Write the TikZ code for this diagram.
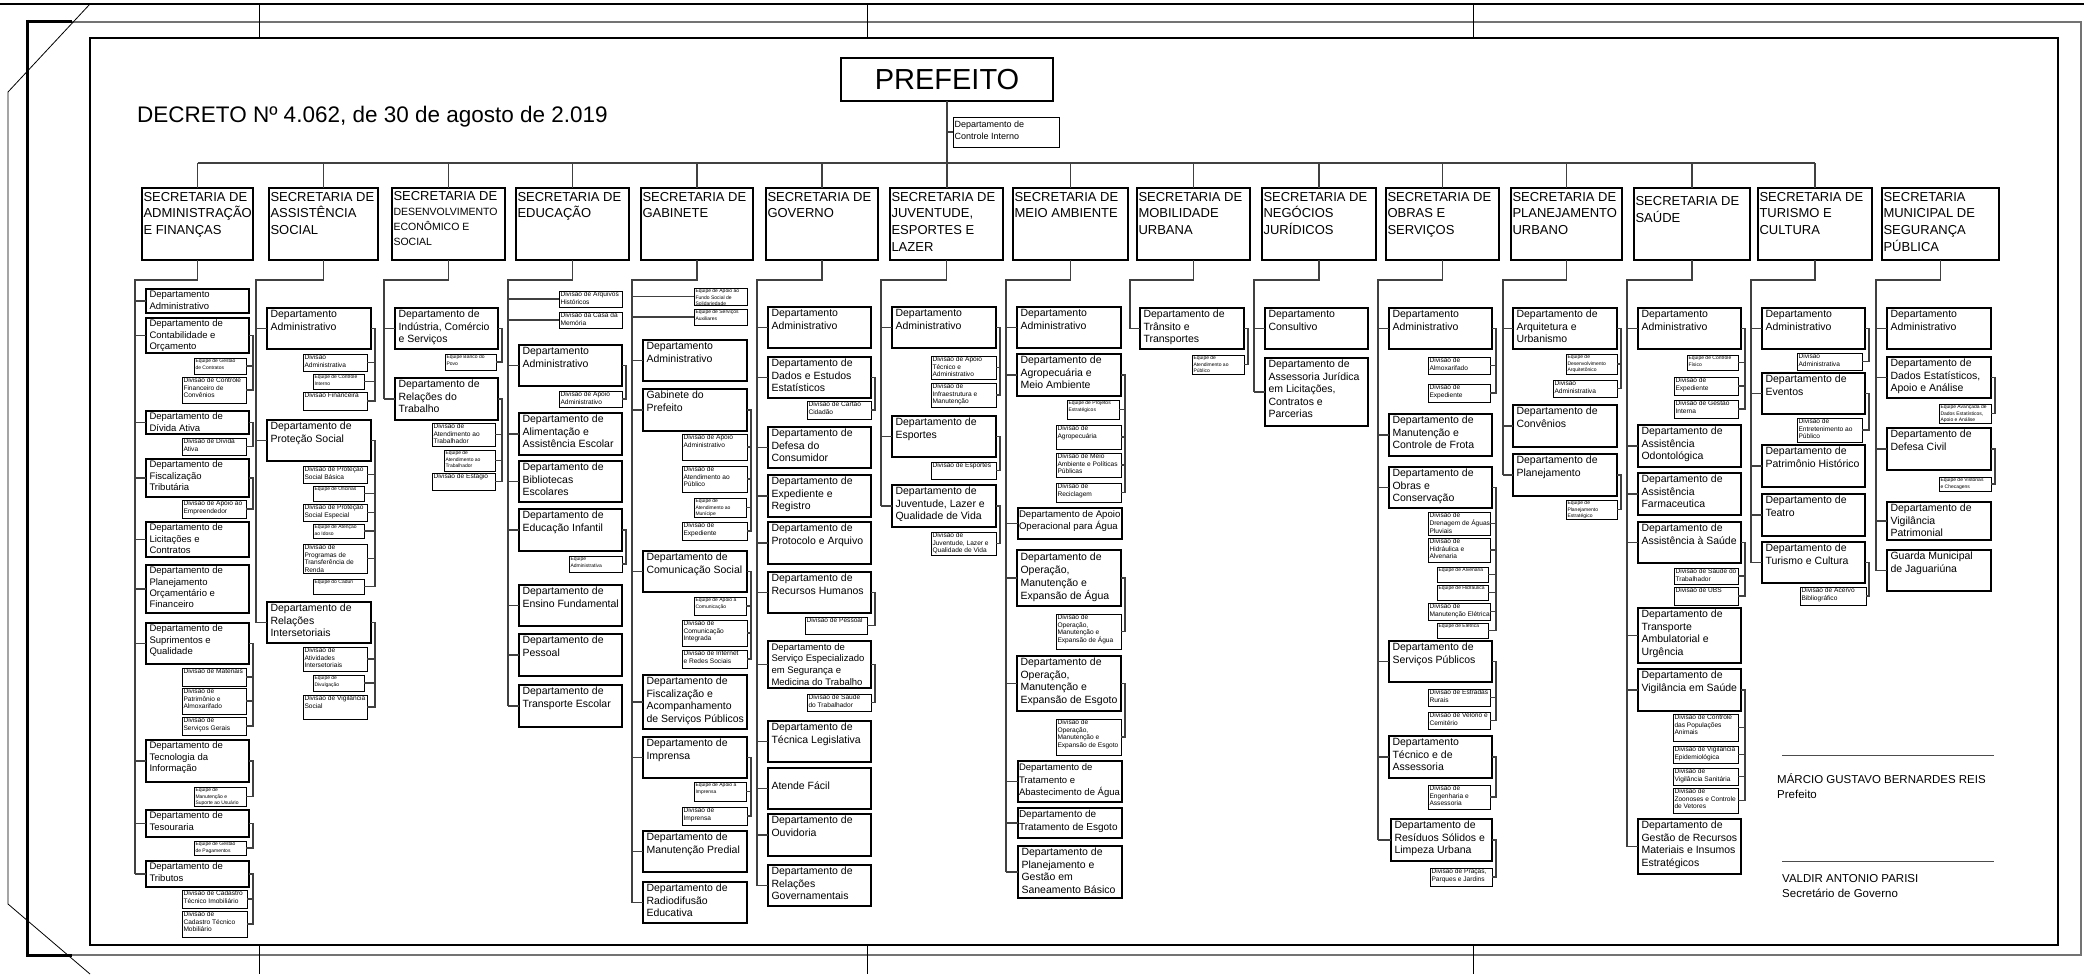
\documentclass[tikz,border=0pt]{standalone}
\usepackage{fontspec}
\setmainfont{Liberation Sans}
\usetikzlibrary{calc}
\newcommand\fs[2]{\fontsize{#1}{#2}\selectfont}
\tikzset{
  bx/.style={draw=black,line width=1.1pt,inner sep=0pt,outer sep=0pt},
  sbx/.style={line width=0.85pt},
  cn/.style={draw=black!75,line width=1.1pt},
  fr/.style={draw=black,line width=1.2pt}
}
\newcommand\bxcore[9]{%
  \pgfmathsetmacro\bw{#4-#2}\pgfmathsetmacro\bh{#5-#3}%
  \node[bx,anchor=north west] (#1) at (#2,#3) {\parbox[c][\bh pt][t]{\bw pt}{#6\vspace*{#8}\hspace*{#7}\begin{tabular}[t]{@{}l@{}}#9\end{tabular}}};}
\newcommand\sbxcore[9]{%
  \pgfmathsetmacro\bw{#4-#2}\pgfmathsetmacro\bh{#5-#3}%
  \node[bx,sbx,anchor=north west] (#1) at (#2,#3) {\parbox[c][\bh pt][t]{\bw pt}{#6\vspace*{#8}\hspace*{#7}\begin{tabular}[t]{@{}l@{}}#9\end{tabular}}};}
\newcommand\dep[7][\fs{10.5}{12.5}]{\bxcore{#2}{#3}{#4}{#5}{#6}{#1}{3.5pt}{1pt}{#7}}
\newcommand\dvb[7][\fs{6.6}{7.5}]{\sbxcore{#2}{#3}{#4}{#5}{#6}{#1}{1.5pt}{0.5pt}{#7}}
\newcommand\eqb[7][\fs{5}{6.4}]{\sbxcore{#2}{#3}{#4}{#5}{#6}{#1}{1.5pt}{0.5pt}{#7}}
\newcommand\hdb[7][\fs{13}{16.7}]{\bxcore{#2}{#3}{#4}{#5}{#6}{#1}{1.5pt}{1.5pt}{#7}}
\newcommand\subc[2]{\foreach \ch in {#2}{\draw[cn] (#1.east) -- ++(4,0) |- (\ch.east);}}
\newcommand\trunk[4]{\draw[cn] (#1.south) |- (#2) -- (#2 |- #3.west);
  \foreach \dd in {#4}{\draw[cn] (\dd.west) -- (\dd.west -| #2);}}
\begin{document}
\begin{tikzpicture}[x=1pt,y=-1pt]
\useasboundingbox (0,0) rectangle (2084,974);
% frame
\draw[line width=2pt] (0,4) -- (2084,4);
\draw[line width=2pt,black!55] (27,22) -- (2081,22) -- (2081,955) -- (27,955);
\draw[line width=3pt] (27,20) -- (27,957);
\draw[line width=3pt] (26,22) -- (72,22);
\draw[line width=3pt] (26,955) -- (72,955);
\draw[fr] (90,38) rectangle (2058,945);
\foreach \x in {259,867,1473}{\draw[line width=0.8pt] (\x,4) -- (\x,38); \draw[line width=0.8pt] (\x,945) -- (\x,974);}
\draw[line width=0.8pt] (90,4) -- (8,92) -- (8,904) -- (90,974);
% top
\node[bx,minimum width=212pt,minimum height=43pt,font=\fs{29}{32}] (pref) at (947,79.5) {PREFEITO};
\node[anchor=base west,inner sep=0pt,font=\fs{22.5}{26}] (dec) at (137,122) {DECRETO Nº 4.062, de 30 de agosto de 2.019};
\sbxcore{ci}{953}{117}{1059}{147}{\fs{9}{11.5}}{1.5pt}{2.5pt}{Departamento de\\Controle Interno}
% secretarias
\hdb{S1}{142}{188}{253}{260}{SECRETARIA DE\\ADMINISTRAÇÃO\\E FINANÇAS}
\hdb{S2}{269}{188}{378}{260}{SECRETARIA DE\\ASSISTÊNCIA\\SOCIAL}
\hdb[\fs{10.5}{15}]{S3}{392}{188}{505}{260}{{\fs{13}{15}SECRETARIA DE}\\DESENVOLVIMENTO\\ECONÔMICO E\\SOCIAL}
\hdb{S4}{516}{188}{629}{260}{SECRETARIA DE\\EDUCAÇÃO}
\hdb{S5}{641}{188}{753}{260}{SECRETARIA DE\\GABINETE}
\hdb{S6}{766}{188}{878}{260}{SECRETARIA DE\\GOVERNO}
\hdb{S7}{890}{188}{1003}{260}{SECRETARIA DE\\JUVENTUDE,\\ESPORTES E\\LAZER}
\hdb{S8}{1013}{188}{1128}{260}{SECRETARIA DE\\MEIO AMBIENTE}
\hdb{S9}{1137}{188}{1250}{260}{SECRETARIA DE\\MOBILIDADE\\URBANA}
\hdb{S10}{1262}{188}{1376}{260}{SECRETARIA DE\\NEGÓCIOS\\JURÍDICOS}
\hdb{S11}{1386}{188}{1499}{260}{SECRETARIA DE\\OBRAS E\\SERVIÇOS}
\hdb{S12}{1511}{188}{1622}{260}{SECRETARIA DE\\PLANEJAMENTO\\URBANO}
\bxcore{S13}{1634}{188}{1750}{260}{\fs{13}{16.7}}{1.5pt}{6pt}{SECRETARIA DE\\SAÚDE}
\hdb{S14}{1758}{188}{1872}{260}{SECRETARIA DE\\TURISMO E\\CULTURA}
\hdb{S15}{1882}{188}{1999}{260}{SECRETARIA\\MUNICIPAL DE\\SEGURANÇA\\PÚBLICA}
% col 1
\dep[\fs{9.5}{11.3}]{c1d1}{146}{289}{249}{313}{Departamento\\Administrativo}
\dep[\fs{9.5}{11.3}]{c1d2}{146}{318}{249}{353}{Departamento de\\Contabilidade e\\Orçamento}
\eqb{c1e1}{194}{358}{246}{374}{Equipe de Gestão\\de Contratos}
\dvb{c1v1}{182}{377}{246}{403}{Divisão de Controle\\Financeiro de\\Convênios}
\dep[\fs{9.5}{11.3}]{c1d3}{146}{411}{249}{434}{Departamento de\\Dívida Ativa}
\dvb{c1v2}{182}{438}{246}{455}{Divisão de Dívida\\Ativa}
\dep[\fs{9.5}{11.3}]{c1d4}{146}{459}{249}{497}{Departamento de\\Fiscalização\\Tributária}
\dvb{c1v3}{182}{500}{246}{518}{Divisão de Apoio ao\\Empreendedor}
\dep[\fs{9.5}{11.3}]{c1d5}{146}{522}{249}{557}{Departamento de\\Licitações e\\Contratos}
\dep[\fs{9.5}{11.3}]{c1d6}{146}{565}{249}{613}{Departamento de\\Planejamento\\Orçamentário e\\Financeiro}
\dep[\fs{9.5}{11.3}]{c1d7}{146}{623}{249}{664}{Departamento de\\Suprimentos e\\Qualidade}
\dvb{c1v4}{182}{668}{246}{686}{Divisão de Materiais}
\dvb{c1v5}{182}{688}{246}{714}{Divisão de\\Patrimônio e\\Almoxarifado}
\dvb{c1v6}{182}{717}{246}{735}{Divisão de\\Serviços Gerais}
\dep[\fs{9.5}{11.3}]{c1d8}{146}{740}{249}{782}{Departamento de\\Tecnologia da\\Informação}
\eqb{c1e2}{194}{787}{246}{806}{Equipe de\\Manutenção e\\Suporte  ao Usuário}
\dep[\fs{9.5}{11.3}]{c1d9}{146}{810}{249}{837}{Departamento de\\Tesouraria}
\eqb{c1e3}{194}{841}{246}{855}{Equipe de Gestão\\de Pagamentos}
\dep[\fs{9.5}{11.3}]{c1d10}{146}{861}{249}{887}{Departamento de\\Tributos}
\dvb{c1v7}{182}{890}{247}{908}{Divisão de Cadastro\\Técnico Imobiliário}
\dvb{c1v8}{182}{911}{247}{937}{Divisão de\\Cadastro Técnico\\Mobiliário}
% col 2
\dep{c2d1}{267}{308}{371}{349}{Departamento\\Administrativo}
\dvb{c2v1}{303}{354}{367}{371}{Divisão\\Administrativa}
\eqb{c2e1}{313}{374}{364}{389}{Equipe de Controle\\Interno}
\dvb{c2v2}{303}{392}{367}{410}{Divisão  Financeira}
\dep{c2d2}{267}{420}{371}{461}{Departamento de\\Proteção Social}
\dvb{c2v3}{303}{466}{367}{483}{Divisão de Proteção\\Social Básica}
\eqb{c2e2}{313}{486}{364}{501}{Equipe de Oficinas}
\dvb{c2v4}{303}{504}{367}{521}{Divisão de Proteção\\Social Especial}
\eqb{c2e3}{313}{524}{364}{538}{Equipe de Atenção\\ao Idoso}
\dvb{c2v5}{303}{544}{367}{573}{Divisão de\\Programas de\\Transferência de\\Renda}
\eqb{c2e4}{313}{579}{364}{594}{Equipe do Cadun}
\dep{c2d3}{267}{602}{371}{643}{Departamento de\\Relações\\Intersetoriais}
\dvb{c2v6}{303}{647}{367}{671}{Divisão de\\Atividades\\Intersetoriais}
\eqb{c2e5}{313}{675}{364}{691}{Equipe de\\Divulgação}
\dvb{c2v7}{303}{695}{367}{719}{Divisão de Vigilância\\Social}
% col 3
\dep{c3d1}{395}{308}{498}{349}{Departamento de\\Indústria, Comércio\\e Serviços}
\eqb{c3e1}{445}{354}{496}{370}{Equipe Banco do\\Povo}
\dep{c3d2}{395}{378}{498}{420}{Departamento de\\Relações do\\Trabalho}
\dvb{c3v1}{432}{423}{495}{446}{Divisão de\\Atendimento ao\\Trabalhador}
\eqb{c3e2}{444}{450}{495}{471}{Equipe de\\Atendimento ao\\Trabalhador}
\dvb{c3v2}{432}{473}{495}{490}{Divisão de Estágio}
% col 4
\dvb{c4v1}{559}{291}{622}{307}{Divisão de Arquivos\\Históricos}
\dvb{c4v2}{559}{312}{622}{328}{Divisão da Casa da\\Memória}
\dep{c4d1}{519}{345}{622}{386}{Departamento\\Administrativo}
\dvb{c4v3}{559}{391}{622}{407}{Divisão de Apoio\\Administrativo}
\dep{c4d2}{519}{413}{622}{455}{Departamento de\\Alimentação e\\Assistência Escolar}
\dep{c4d3}{519}{461}{622}{502}{Departamento de\\Bibliotecas\\Escolares}
\dep{c4d4}{519}{509}{622}{551}{Departamento de\\Educação Infantil}
\eqb{c4e1}{569}{556}{622}{572}{Equipe\\Administrativa}
\dep{c4d5}{519}{585}{622}{626}{Departamento de\\Ensino Fundamental}
\dep{c4d6}{519}{634}{622}{676}{Departamento de\\Pessoal}
\dep{c4d7}{519}{685}{622}{727}{Departamento de\\Transporte Escolar}
% col 5
\eqb{c5e1}{694}{288}{747}{305}{Equipe de  Apoio ao\\Fundo Social de\\Solidariedade}
\eqb{c5e2}{694}{309}{747}{325}{Equipe de Serviços\\Auxiliares}
\dep{c5d1}{643}{340}{747}{381}{Departamento\\Administrativo}
\dep{c5d2}{643}{389}{747}{431}{Gabinete do\\Prefeito}
\dvb{c5v1}{682}{434}{747}{460}{Divisão de Apoio\\Administrativo}
\dvb{c5v2}{682}{466}{747}{492}{Divisão de\\Atendimento ao\\Público}
\eqb{c5e3}{694}{498}{746}{517}{Equipe de\\Atendimento ao\\Munícipe}
\dvb{c5v3}{682}{522}{747}{540}{Divisão de\\Expediente}
\dep{c5d3}{643}{551}{747}{592}{Departamento de\\Comunicação Social}
\eqb{c5e4}{694}{597}{746}{615}{Equipe de Apoio à\\Comunicação}
\dvb{c5v4}{682}{620}{747}{646}{Divisão de\\Comunicação\\Integrada}
\dvb{c5v5}{682}{650}{747}{668}{Divisão de Internet\\e Redes Sociais}
\dep{c5d4}{643}{675}{747}{729}{Departamento de\\Fiscalização e\\Acompanhamento\\de Serviços Públicos}
\dep{c5d5}{643}{737}{747}{778}{Departamento de\\Imprensa}
\eqb{c5e5}{694}{782}{746}{801}{Equipe de Apoio à\\Imprensa}
\dvb{c5v6}{682}{807}{747}{825}{Divisão de\\Imprensa}
\dep{c5d6}{643}{831}{747}{872}{Departamento de\\Manutenção Predial}
\dep{c5d7}{643}{882}{747}{923}{Departamento de\\Radiodifusão\\Educativa}
% col 6
\dep{c6d1}{768}{307}{871}{348}{Departamento\\Administrativo}
\dep{c6d2}{768}{357}{871}{398}{Departamento de\\Dados e Estudos\\Estatísticos}
\dvb{c6v1}{807}{401}{871}{419}{Divisão de Cartão\\Cidadão}
\dep{c6d3}{768}{427}{871}{468}{Departamento de\\Defesa do\\Consumidor}
\dep{c6d4}{768}{475}{871}{517}{Departamento de\\Expediente e\\Registro}
\dep{c6d5}{768}{522}{871}{564}{Departamento de\\Protocolo e Arquivo}
\dep{c6d6}{768}{572}{871}{613}{Departamento de\\Recursos Humanos}
\dvb{c6v2}{805}{617}{867}{634}{Divisão de Pessoal}
\dep[\fs{9.5}{11.7}]{c6d7}{768}{641}{871}{688}{Departamento de\\Serviço Especializado\\em Segurança e\\Medicina do Trabalho}
\dvb{c6v3}{807}{694}{871}{711}{Divisão de Saúde\\do Trabalhador}
\dep{c6d8}{768}{721}{871}{762}{Departamento de\\Técnica Legislativa}
\bxcore{c6d9}{768}{768}{871}{809}{\fs{10.5}{12.5}}{3.5pt}{13pt}{Atende Fácil}
\dep{c6d10}{768}{814}{871}{856}{Departamento de\\Ouvidoria}
\dep{c6d11}{768}{865}{871}{906}{Departamento de\\Relações\\Governamentais}
% col 7
\dep{c7d1}{892}{307}{996}{348}{Departamento\\Administrativo}
\dvb{c7v1}{931}{356}{996}{379}{Divisão  de Apoio\\Técnico e\\Administrativo}
\dvb{c7v2}{931}{383}{996}{407}{Divisão  de\\Infraestrutura e\\Manutenção}
\dep{c7d2}{892}{416}{996}{457}{Departamento de\\Esportes}
\dvb{c7v3}{931}{462}{996}{479}{Divisão  de Esportes}
\dep{c7d3}{892}{485}{996}{527}{Departamento de\\Juventude, Lazer e\\Qualidade de Vida}
\dvb{c7v4}{931}{532}{996}{555}{Divisão  de\\Juventude, Lazer e\\Qualidade de Vida}
% col 8
\dep{c8d1}{1017}{307}{1121}{348}{Departamento\\Administrativo}
\dep{c8d2}{1017}{354}{1121}{396}{Departamento de\\Agropecuária e\\Meio Ambiente}
\eqb{c8e1}{1067}{400}{1119}{419}{Equipe de Projetos\\Estratégicos}
\dvb{c8v1}{1056}{425}{1121}{449}{Divisão  de\\Agropecuária}
\dvb{c8v2}{1056}{453}{1121}{477}{Divisão  de Meio\\Ambiente e Políticas\\Públicas}
\dvb{c8v3}{1056}{483}{1121}{502}{Divisão  de\\Reciclagem}
\bxcore{c8d3}{1018}{508}{1122}{539}{\fs{9.6}{12}}{1pt}{1pt}{Departamento de Apoio\\Operacional para Água}
\dep[\fs{10.5}{13.2}]{c8d4}{1017}{550}{1121}{606}{Departamento de\\Operação,\\Manutenção e\\Expansão de Água}
\dvb{c8v4}{1056}{614}{1121}{649}{Divisão de\\Operação,\\Manutenção e\\Expansão de Água}
\dep{c8d5}{1017}{656}{1121}{711}{Departamento de\\Operação,\\Manutenção e\\Expansão de Esgoto}
\dvb{c8v5}{1056}{719}{1121}{755}{Divisão de\\Operação,\\Manutenção e\\Expansão de Esgoto}
\bxcore{c8d6}{1018}{761}{1122}{802}{\fs{9.5}{12.5}}{1pt}{1pt}{Departamento de\\Tratamento e\\Abastecimento de Água}
\bxcore{c8d7}{1018}{808}{1122}{838}{\fs{10}{12.5}}{1pt}{1pt}{Departamento de\\Tratamento de Esgoto}
\dep{c8d8}{1018}{846}{1122}{898}{Departamento de\\Planejamento e\\Gestão em\\Saneamento Básico}
% col 9
\dep{c9d1}{1140}{308}{1244}{349}{Departamento de\\Trânsito e\\Transportes}
\eqb{c9e1}{1192}{355}{1244}{374}{Equipe de\\Atendimento ao\\Público}
% col 10
\dep{c10d1}{1265}{308}{1368}{349}{Departamento\\Consultivo}
\dep{c10d2}{1265}{358}{1368}{426}{Departamento de\\Assessoria Jurídica\\em Licitações,\\Contratos e\\Parcerias}
% col 11
\dep{c11d1}{1389}{308}{1492}{349}{Departamento\\Administrativo}
\dvb{c11v1}{1428}{357}{1490}{374}{Divisão  de\\Almoxarifado}
\dvb{c11v2}{1428}{384}{1490}{402}{Divisão  de\\Expediente}
\dep{c11d2}{1389}{414}{1492}{456}{Departamento de\\Manutenção e\\Controle de Frota}
\dep{c11d3}{1389}{467}{1492}{508}{Departamento de\\Obras e\\Conservação}
\dvb{c11v3}{1428}{512}{1490}{535}{Divisão  de\\Drenagem de Águas\\Pluviais}
\dvb{c11v4}{1428}{538}{1490}{562}{Divisão  de\\Hidráulica e\\Alvenaria}
\eqb{c11e1}{1437}{567}{1488}{582}{Equipe de Alvenaria}
\eqb{c11e2}{1437}{585}{1488}{600}{Equipe de Hidráulica}
\dvb{c11v5}{1428}{603}{1490}{620}{Divisão  de\\Manutenção Elétrica}
\eqb{c11e3}{1437}{623}{1488}{638}{Equipe de Elétrica}
\dep{c11d4}{1389}{641}{1492}{682}{Departamento de\\Serviços Públicos}
\dvb{c11v6}{1428}{689}{1490}{706}{Divisão  de Estradas\\Rurais}
\dvb{c11v7}{1428}{712}{1490}{729}{Divisão  de Velório e\\Cemitério}
\dep{c11d5}{1389}{736}{1492}{778}{Departamento\\Técnico e de\\Assessoria}
\dvb{c11v8}{1428}{785}{1490}{809}{Divisão  de\\Engenharia e\\Assessoria}
\dep{c11d6}{1391}{819}{1492}{861}{Departamento de\\Resíduos Sólidos e\\Limpeza Urbana}
\dvb{c11v9}{1430}{868}{1492}{886}{Divisão  de Praças,\\Parques e Jardins}
% col 12
\dep{c12d1}{1513}{308}{1617}{349}{Departamento de\\Arquitetura e\\Urbanismo}
\eqb{c12e1}{1566}{354}{1617}{374}{Equipe de\\Desenvolvimento\\Arquitetônico}
\dvb{c12v1}{1553}{380}{1617}{397}{Divisão\\Administrativa}
\dep{c12d2}{1513}{405}{1617}{447}{Departamento de\\Convênios}
\dep{c12d3}{1513}{454}{1617}{496}{Departamento de\\Planejamento}
\eqb{c12e2}{1566}{500}{1617}{519}{Equipe de\\Planejamento\\Estratégico}
% col 13
\dep{c13d1}{1638}{308}{1741}{349}{Departamento\\Administrativo}
\eqb{c13e1}{1687}{355}{1738}{370}{Equipe de Controle\\Físico}
\dvb{c13v1}{1674}{377}{1738}{395}{Divisão de\\Expediente}
\dvb{c13v2}{1674}{400}{1738}{418}{Divisão de Gestão\\Interna}
\dep{c13d2}{1638}{425}{1741}{467}{Departamento de\\Assistência\\Odontológica}
\dep{c13d3}{1638}{473}{1741}{515}{Departamento de\\Assistência\\Farmaceutica}
\dep{c13d4}{1638}{522}{1741}{563}{Departamento de\\Assistência à Saúde}
\dvb{c13v3}{1674}{568}{1738}{584}{Divisão de Saúde do\\Trabalhador}
\dvb{c13v4}{1674}{587}{1738}{605}{Divisão de UBS}
\dep{c13d5}{1638}{608}{1741}{663}{Departamento de\\Transporte\\Ambulatorial e\\Urgência}
\dep{c13d6}{1638}{669}{1741}{711}{Departamento de\\Vigilância em Saúde}
\dvb{c13v5}{1673}{714}{1738}{741}{Divisão de Controle\\das Populações\\Animais}
\dvb{c13v6}{1673}{746}{1738}{763}{Divisão de Vigilância\\Epidemiológica}
\dvb{c13v7}{1673}{768}{1738}{785}{Divisão  de\\Vigilância Sanitária}
\dvb{c13v8}{1673}{788}{1738}{813}{Divisão de\\Zoonoses e Controle\\de Vetores}
\dep{c13d7}{1638}{819}{1741}{874}{Departamento de\\Gestão de Recursos\\Materiais e Insumos\\Estratégicos}
% col 14
\dep{c14d1}{1762}{308}{1865}{349}{Departamento\\Administrativo}
\dvb{c14v1}{1797}{353}{1862}{370}{Divisão\\Administrativa}
\dep{c14d2}{1762}{373}{1865}{414}{Departamento de\\Eventos}
\dvb{c14v2}{1797}{418}{1862}{442}{Divisão de\\Entretenimento ao\\Público}
\dep{c14d3}{1762}{445}{1865}{487}{Departamento de\\Patrimônio Histórico}
\dep{c14d4}{1762}{494}{1865}{536}{Departamento de\\Teatro}
\dep{c14d5}{1762}{542}{1865}{583}{Departamento de\\Turismo e Cultura}
\dvb{c14v3}{1800}{587}{1866}{605}{Divisão de Acervo\\Bibliográfico}
% col 15
\dep{c15d1}{1887}{308}{1991}{349}{Departamento\\Administrativo}
\dep{c15d2}{1887}{357}{1991}{398}{Departamento de\\Dados Estatísticos,\\Apoio e Análise}
\eqb{c15e1}{1939}{404}{1991}{423}{Equipe Avançada de\\Dados Estatísticos,\\Apoio e Análise}
\dep{c15d3}{1887}{428}{1991}{470}{Departamento de\\Defesa Civil}
\eqb{c15e2}{1939}{477}{1991}{491}{Equipe de Vistorias\\e Checagens}
\dep{c15d4}{1887}{502}{1991}{540}{Departamento de\\Vigilância\\Patrimonial}
\dep{c15d5}{1887}{550}{1991}{591}{Guarda Municipal\\de Jaguariúna}
% signatures
\coordinate (sl1) at (1782,755); \coordinate (sr1) at (1994,755);
\coordinate (sl2) at (1782,861); \coordinate (sr2) at (1994,861);
\draw[line width=0.8pt,black!70] (sl1) -- (sr1);
\draw[line width=0.8pt,black!70] (sl2) -- (sr2);
\node[anchor=base west,inner sep=0pt,font=\fs{11.5}{14}] (sig1) at (1777,783) {MÁRCIO GUSTAVO BERNARDES REIS};
\node[anchor=base west,inner sep=0pt,font=\fs{11.5}{14}] (sig1b) at (1777,798) {Prefeito};
\node[anchor=base west,inner sep=0pt,font=\fs{11.5}{14}] (sig2) at (1782,882) {VALDIR ANTONIO PARISI};
\node[anchor=base west,inner sep=0pt,font=\fs{11.5}{14}] (sig2b) at (1782,897) {Secretário de Governo};
% top connectors
\coordinate (busy) at (0,163);
\draw[cn] (pref.south) -- (pref.south |- S7.north);
\draw[cn] (ci.west) -- (ci.west -| pref.south);
\draw[cn] (S1.north |- busy) -- (S14.north |- busy);
\foreach \s in {S1,S2,S3,S4,S5,S6,S8,S9,S10,S11,S12,S13,S14}{\draw[cn] (\s.north) -- (\s.north |- busy);}
% trunks
\coordinate (T1) at (135,280); \coordinate (T2) at (256,280); \coordinate (T3) at (384,280);
\coordinate (T4) at (508,280); \coordinate (T5) at (632,280); \coordinate (T6) at (757,280);
\coordinate (T7) at (881,280); \coordinate (T8) at (1006,280); \coordinate (T9) at (1130,280);
\coordinate (T10) at (1254,280); \coordinate (T11) at (1378,280); \coordinate (T12) at (1503,280);
\coordinate (T13) at (1627,280); \coordinate (T14) at (1751,280); \coordinate (T15) at (1876,280);
\trunk{S1}{T1}{c1d10}{c1d1,c1d2,c1d3,c1d4,c1d5,c1d6,c1d7,c1d8,c1d9,c1d10}
\trunk{S2}{T2}{c2d3}{c2d1,c2d2,c2d3}
\trunk{S3}{T3}{c3d2}{c3d1,c3d2}
\trunk{S4}{T4}{c4d7}{c4v1,c4v2,c4d1,c4d2,c4d3,c4d4,c4d5,c4d6,c4d7}
\trunk{S5}{T5}{c5d7}{c5e1,c5e2,c5d1,c5d2,c5d3,c5d4,c5d5,c5d6,c5d7}
\trunk{S6}{T6}{c6d11}{c6d1,c6d2,c6d3,c6d4,c6d5,c6d6,c6d7,c6d8,c6d9,c6d10,c6d11}
\trunk{S7}{T7}{c7d3}{c7d1,c7d2,c7d3}
\trunk{S8}{T8}{c8d8}{c8d1,c8d2,c8d3,c8d4,c8d5,c8d6,c8d7,c8d8}
\trunk{S9}{T9}{c9d1}{c9d1}
\trunk{S10}{T10}{c10d2}{c10d1,c10d2}
\trunk{S11}{T11}{c11d6}{c11d1,c11d2,c11d3,c11d4,c11d5,c11d6}
\trunk{S12}{T12}{c12d3}{c12d1,c12d2,c12d3}
\trunk{S13}{T13}{c13d7}{c13d1,c13d2,c13d3,c13d4,c13d5,c13d6,c13d7}
\trunk{S14}{T14}{c14d5}{c14d1,c14d2,c14d3,c14d4,c14d5}
\trunk{S15}{T15}{c15d5}{c15d1,c15d2,c15d3,c15d4,c15d5}
% sub connectors
\subc{c1d2}{c1e1,c1v1}\subc{c1d3}{c1v2}\subc{c1d4}{c1v3}\subc{c1d7}{c1v4,c1v5,c1v6}
\subc{c1d8}{c1e2}\subc{c1d9}{c1e3}\subc{c1d10}{c1v7,c1v8}
\subc{c2d1}{c2v1,c2e1,c2v2}\subc{c2d2}{c2v3,c2e2,c2v4,c2e3,c2v5,c2e4}\subc{c2d3}{c2v6,c2e5,c2v7}
\subc{c3d1}{c3e1}\subc{c3d2}{c3v1,c3e2,c3v2}
\subc{c4d1}{c4v3}\subc{c4d4}{c4e1}
\subc{c5d2}{c5v1,c5v2,c5e3,c5v3}\subc{c5d3}{c5e4,c5v4,c5v5}\subc{c5d5}{c5e5,c5v6}
\subc{c6d2}{c6v1}\subc{c6d6}{c6v2}\subc{c6d7}{c6v3}
\subc{c7d1}{c7v1,c7v2}\subc{c7d2}{c7v3}\subc{c7d3}{c7v4}
\subc{c8d2}{c8e1,c8v1,c8v2,c8v3}\subc{c8d4}{c8v4}\subc{c8d5}{c8v5}
\subc{c9d1}{c9e1}
\subc{c11d1}{c11v1,c11v2}\subc{c11d3}{c11v3,c11v4,c11e1,c11e2,c11v5,c11e3}\subc{c11d4}{c11v6,c11v7}
\subc{c11d5}{c11v8}\subc{c11d6}{c11v9}
\subc{c12d1}{c12e1,c12v1}\subc{c12d3}{c12e2}
\subc{c13d1}{c13e1,c13v1,c13v2}\subc{c13d4}{c13v3,c13v4}\subc{c13d6}{c13v5,c13v6,c13v7,c13v8}
\subc{c14d1}{c14v1}\subc{c14d2}{c14v2}\subc{c14d5}{c14v3}
\subc{c15d2}{c15e1}\subc{c15d3}{c15e2}
\end{tikzpicture}
\end{document}
